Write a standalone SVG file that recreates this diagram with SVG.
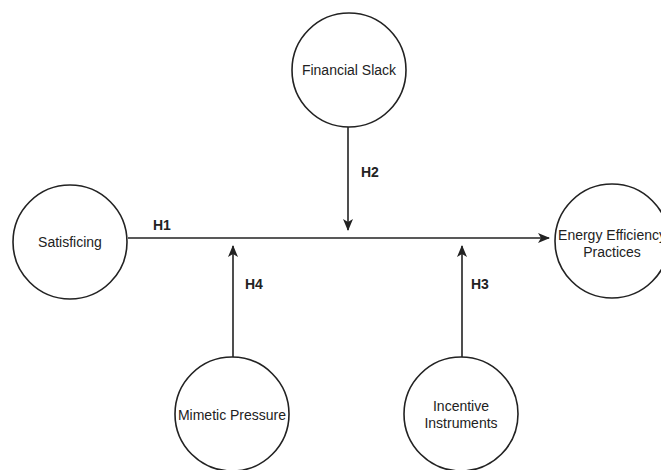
<svg xmlns="http://www.w3.org/2000/svg" width="661" height="470" viewBox="0 0 661 470">
<style>
.node circle{fill:#fff;stroke:#222;stroke-width:1.6}
.node text{font-family:"Liberation Sans",Arial,sans-serif;font-size:14px;fill:#222;text-anchor:middle}
.lbl{font-family:"Liberation Sans",Arial,sans-serif;font-size:14px;font-weight:bold;fill:#222}
.edge{stroke:#222;stroke-width:1.6;fill:none;marker-end:url(#ah)}
</style>
<defs>
<marker id="ah" viewBox="0 0 12 10" refX="11" refY="5" markerWidth="12" markerHeight="10" markerUnits="userSpaceOnUse" orient="auto">
<path d="M0,0 L12,5 L0,10 L3,5 Z" fill="#222"/>
</marker>
</defs>
<rect width="661" height="470" fill="#fff"/>
<g id="connectors">
<path class="edge" d="M128,238 L549,238"/>
<path class="edge" d="M348,127 L348,230"/>
<path class="edge" d="M233,357 L233,246"/>
<path class="edge" d="M462,357 L462,246"/>
</g>
<g id="labels">
<text class="lbl" x="153" y="230">H1</text>
<text class="lbl" x="361" y="177">H2</text>
<text class="lbl" x="471" y="289">H3</text>
<text class="lbl" x="245" y="289">H4</text>
</g>
<g id="satisficing" class="node"><circle cx="70" cy="242" r="57"/><text x="70" y="247">Satisficing</text></g>
<g id="financial-slack" class="node"><circle cx="349" cy="70" r="57"/><text x="349" y="75">Financial Slack</text></g>
<g id="energy-efficiency" class="node"><circle cx="612" cy="241" r="57"/><text x="612" y="240">Energy Efficiency</text><text x="612" y="257">Practices</text></g>
<g id="mimetic-pressure" class="node"><circle cx="232" cy="414" r="57"/><text x="232" y="420">Mimetic Pressure</text></g>
<g id="incentive-instruments" class="node"><circle cx="461" cy="414" r="57"/><text x="461" y="411">Incentive</text><text x="461" y="428">Instruments</text></g>
</svg>
